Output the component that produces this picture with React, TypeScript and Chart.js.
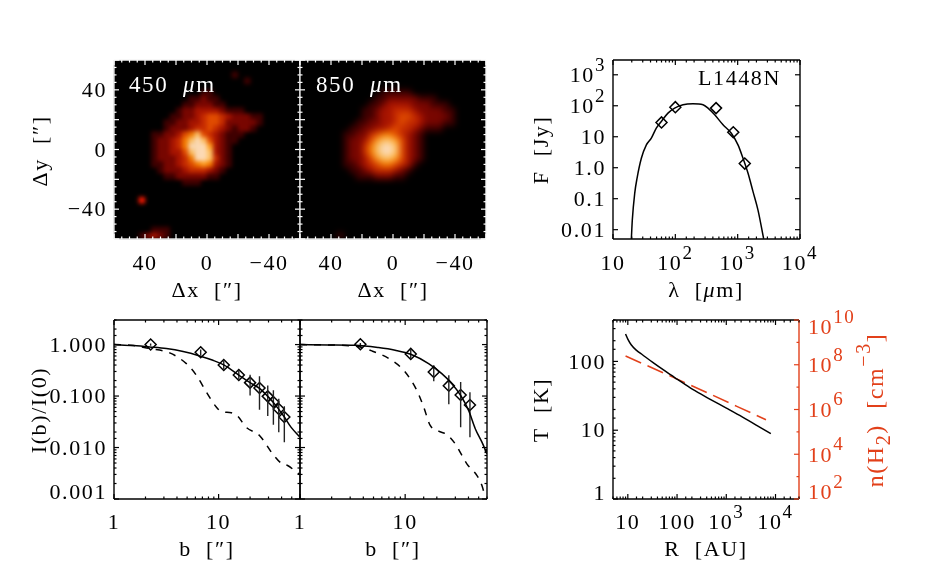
import React, { useEffect, useRef } from "react";
import { Chart, registerables } from "chart.js";

Chart.register(...registerables);

const FONT = '"Liberation Serif"';
const RED = "#e2401a";

// ---------- images: colour level per 4" cell, rows from top (+60) to bottom (-60), columns from +60 to -60
const heat450Rows = [
  "000000000000000000000000000000",
  "000000000000000000000000000000",
  "000000000000000000010000000000",
  "000000000000000000000100000000",
  "000000000000000000000000000000",
  "000000000000001100000000000000",
  "000000000000112110000000000000",
  "000000000001122211000000000000",
  "000000000012233332111000000000",
  "000000000112234554322211000000",
  "000000001122334554222221000000",
  "000000001222344543212210000000",
  "000000112235685432111000000000",
  "000000122346898532110000000000",
  "000000122346999732100000000000",
  "000000122335899832100000000000",
  "000000122234699842100000000000",
  "000000112234567632100000000000",
  "000000012223444321000000000000",
  "000000001122222110000000000000",
  "000000000001110000000000000000",
  "000000000000000000000000000000",
  "000000000000000000000000000000",
  "0000a0000000000000000000000000",
  "000000000000000000000000000000",
  "000000000000000000000000000000",
  "000000000000000000000000000000",
  "000000000000000000000000000000",
  "000000111000000000000000000000",
  "000012321000000000000000000000",
];
const heat850Rows = [
  "000000000000000000000000000000",
  "000000000000000000000000000000",
  "000000000000000000000000000000",
  "000000000000000000000000000000",
  "000000000000000000000000000000",
  "000000000000011111000000000000",
  "000000000000112222211100000000",
  "000000000001123333222111000000",
  "000000000011233444322221100000",
  "000000000011233455432222100000",
  "000000000112233454432221100000",
  "000000001122334544321110000000",
  "000000011224566543210000000000",
  "000000012235788753210000000000",
  "000000012246899853210000000000",
  "000000012246899853210000000000",
  "000000012235788753210000000000",
  "000000011234566543100000000000",
  "000000001123444321000000000000",
  "000000000111222110000000000000",
  "000000000000000000000000000000",
  "000000000000000000000000000000",
  "000000000000000000000000000000",
  "000000000000000000000000000000",
  "000000000000000000000000000000",
  "000000000000000000000000000000",
  "000000000000000000000000000000",
  "000000000000000000000000000000",
  "000000000000000000000000000000",
  "000000100000000000000000000000",
];
const heatColours = ["#000000", "#400000", "#7a0600", "#a81400", "#c82c00", "#e24c00", "#f67c00", "#ff9f20", "#ffc264", "#ffdcb6", "#ff1800"];
const imageTickValues = [40, 0, -40];
const imageTickLabels = ["40", "0", "\u221240"];

// ---------- SED
const sedLambda = [19.7, 20.4, 22.3, 24.3, 28.5, 34.3, 41.2, 49.5, 59.6, 76.2, 97.5, 133, 192, 278, 334, 428, 582, 791, 1012, 1218, 1467, 1763, 2119, 2612];
const sedFlux = [0.0051, 0.0204, 0.149, 0.456, 2.02, 5.47, 9.0, 18.9, 31.1, 57.9, 84, 108, 116, 108, 84, 51.2, 24.3, 13.0, 5.47, 2.02, 0.66, 0.169, 0.043, 0.0051];
const sedObsLambda = [60, 100, 450, 850, 1300];
const sedObsFlux = [29, 90, 84, 14, 1.36];
const sedXTicks = [10, 100, 1000, 10000];
const sedXLabels = ["10", "10^{2}", "10^{3}", "10^{4}"];
const sedYTicks = [1000, 100, 10, 1, 0.1, 0.01];
const sedYLabels = ["10^{3}", "10^{2}", "10", "1.0", "0.1", "0.01"];

// ---------- intensity profiles
const prof450B = [1, 1.53, 2.2, 3.17, 4.58, 6.59, 8.83, 11.2, 15.6, 20.0, 24.6, 29.5, 32.9, 37.0, 42.5, 49.2, 59.1];
const prof450I = [1, 0.956, 0.9, 0.836, 0.731, 0.601, 0.495, 0.402, 0.256, 0.182, 0.141, 0.0986, 0.0776, 0.0577, 0.0391, 0.0249, 0.0164];
const beam450B = [1, 1.53, 2.2, 3.41, 4.92, 6.13, 7.63, 9.5, 10.6, 13.2, 15.3, 18.3, 24.6, 32.9, 40.4, 45.7, 54.9, 59.1];
const beam450I = [1, 0.956, 0.836, 0.688, 0.426, 0.253, 0.12, 0.0612, 0.0501, 0.0474, 0.0401, 0.0249, 0.0171, 0.0075, 0.00482, 0.00447, 0.0034, 0.00305];
const obs450B = [2.24, 6.74, 11.2, 15.6, 20, 24.6, 29.5, 33.4, 37.6, 42.5];
const obs450I = [1.0, 0.709, 0.402, 0.256, 0.182, 0.143, 0.0986, 0.0764, 0.0559, 0.0391];
const obs450Hi = [1.05, 0.8, 0.495, 0.316, 0.26, 0.242, 0.161, 0.129, 0.0888, 0.0632];
const obs450Lo = [0.95, 0.61, 0.326, 0.211, 0.103, 0.054, 0.0408, 0.0277, 0.0199, 0.0127];

const prof850B = [1, 1.86, 3.34, 5.57, 8.03, 11.3, 16.7, 22.3, 27.8, 33.4, 40.1, 46.4, 53.7, 60];
const prof850I = [1, 0.985, 0.97, 0.874, 0.776, 0.648, 0.426, 0.272, 0.174, 0.106, 0.0527, 0.0232, 0.0127, 0.00757];
const beam850B = [1, 3.34, 4.82, 7.46, 10, 12.9, 15, 17.3, 20.8, 24.9, 29.9, 38.6, 48.2, 53.7, 57];
const beam850I = [1, 0.928, 0.753, 0.495, 0.293, 0.129, 0.0612, 0.0268, 0.0208, 0.0179, 0.0118, 0.00482, 0.00285, 0.00182, 0.0012];
const obs850B = [3.75, 11.3, 18.7, 26, 33.7, 41.3, 65.5];
const obs850I = [1.015, 0.658, 0.293, 0.159, 0.105, 0.0668, 0.0085];
const obs850Hi = [1.07, 0.8, 0.396, 0.253, 0.187, 0.119, 0.0085];
const obs850Lo = [0.9, 0.526, 0.193, 0.069, 0.0248, 0.0159, 0.0085];

const profXTicks = [1, 10];
const profXLabels = ["1", "10"];
const profYTicks = [1, 0.1, 0.01, 0.001];
const profYLabels = ["1.000", "0.100", "0.010", "0.001"];

// ---------- temperature & density
const radiusT = [9, 10, 11.7, 14.8, 20.1, 32.1, 59.8, 100, 208, 452, 984, 2143, 4670, 8035];
const temperature = [250, 211, 175, 146, 124, 96.7, 70.8, 55.3, 39.1, 28.6, 21.1, 15.5, 11.2, 8.9];
const radiusN = [9, 96, 6400];
const density = [2.45e8, 2.4e7, 3.5e5];
const radXTicks = [10, 100, 1000, 10000];
const radXLabels = ["10", "100", "10^{3}", "10^{4}"];
const tempTicks = [100, 10, 1];
const tempLabels = ["100", "10", "1"];
const densTicks = [1e10, 1e8, 1e6, 1e4, 1e2];
const densLabels = ["10^{10}", "10^{8}", "10^{6}", "10^{4}", "10^{2}"];

// ---------- helpers
const pts = (xs: number[], ys: number[]) => xs.map((x, i) => ({ x, y: ys[i] }));
const near = (a: number, b: number) => Math.abs(a - b) <= 1e-6 * Math.max(Math.abs(a), Math.abs(b), 1e-12);
const lookup = (vals: number[], labs: string[]) => (v: number) => {
  const i = vals.findIndex((k) => near(k, v));
  return i >= 0 ? labs[i] : "";
};
const isDecade = (v: number) => Math.abs(Math.log10(v) - Math.round(Math.log10(v))) < 1e-6;
const isEvenDecade = (v: number) => isDecade(v) && Math.round(Math.log10(v)) % 2 === 0;
const cells = (rows: string[]) => {
  const out: { x: number; y: number; v: number }[] = [];
  rows.forEach((row, r) =>
    row.split("").forEach((ch, c) => {
      const v = parseInt(ch, 16);
      if (v > 0) out.push({ x: 60 - 4 * (c + 0.5), y: 60 - 4 * (r + 0.5), v });
    })
  );
  return out;
};
const errorSegments = (xs: number[], lo: number[], hi: number[]) =>
  xs.flatMap((x, i) => [{ x, y: lo[i] }, { x, y: hi[i] }, { x, y: NaN }]);

function parseRich(s: string) {
  const re = /\^\{([^}]*)\}|_\{([^}]*)\}|\*([^*]*)\*|([^^_*]+)/g;
  const out: { t: string; kind: string }[] = [];
  let m: RegExpExecArray | null;
  while ((m = re.exec(s))) {
    if (m[1] !== undefined) out.push({ t: m[1], kind: "sup" });
    else if (m[2] !== undefined) out.push({ t: m[2], kind: "sub" });
    else if (m[3] !== undefined) out.push({ t: m[3], kind: "ital" });
    else out.push({ t: m[4], kind: "n" });
  }
  return out;
}

type RichOpts = { size?: number; color?: string; rotate?: boolean; align?: string; spacing?: number };
function drawRich(ctx: any, text: string, x: number, y: number, o: RichOpts = {}) {
  const size = o.size ?? 22;
  const spacing = o.spacing ?? 1.6;
  const segs = parseRich(text);
  ctx.save();
  ctx.translate(x, y);
  if (o.rotate) ctx.rotate(-Math.PI / 2);
  ctx.fillStyle = o.color ?? "#000";
  ctx.textBaseline = "alphabetic";
  ctx.textAlign = "left";
  ctx.letterSpacing = spacing + "px";
  const fontFor = (k: string) =>
    k === "sup" || k === "sub"
      ? `${Math.round(size * 0.85)}px ${FONT}`
      : k === "ital"
      ? `italic ${size}px ${FONT}`
      : `${size}px ${FONT}`;
  let total = 0;
  segs.forEach((s) => {
    ctx.font = fontFor(s.kind);
    total += ctx.measureText(s.t).width;
  });
  let cx = o.align === "right" ? -total : o.align === "left" ? 0 : -total / 2;
  const base = size * 0.33;
  segs.forEach((s) => {
    ctx.font = fontFor(s.kind);
    const dy = s.kind === "sup" ? -size * 0.52 : s.kind === "sub" ? size * 0.28 : 0;
    ctx.fillText(s.t, cx, base + dy);
    cx += ctx.measureText(s.t).width;
  });
  ctx.restore();
}

type AxisDraw = {
  id: string;
  sides: string[];
  major: (v: number) => boolean;
  color?: string;
  labelSide?: string;
  labelAt?: number;
  shift?: (v: number) => number;
  clipRight?: number;
};
type PanelSpec = {
  axes: AxisDraw[];
  frame?: { left?: string; right?: string; top?: string; bottom?: string };
  tickLen: [number, number];
  blur?: number;
  titles?: { text: string; x: number; y: number; rotate?: boolean; color?: string; size?: number }[];
  notes?: { text: string; x: number; y: number; color: string; size?: number }[];
};

const panelPlugin = (p: PanelSpec) => ({
  id: "panel",
  beforeDatasetsDraw(chart: any) {
    if (p.blur === undefined) return;
    const a = chart.chartArea;
    chart.ctx.save();
    chart.ctx.fillStyle = "#000";
    chart.ctx.fillRect(a.left, a.top, a.right - a.left, a.bottom - a.top);
    chart.ctx.restore();
  },
  afterDatasetsDraw(chart: any) {
    const ctx = chart.ctx;
    const a = chart.chartArea;
    if (p.blur !== undefined) {
      const w = Math.round(a.right - a.left);
      const h = Math.round(a.bottom - a.top);
      const tmp = document.createElement("canvas");
      tmp.width = w;
      tmp.height = h;
      tmp.getContext("2d")!.drawImage(ctx.canvas, a.left, a.top, w, h, 0, 0, w, h);
      ctx.save();
      ctx.fillStyle = "#000";
      ctx.fillRect(a.left, a.top, w, h);
      ctx.beginPath();
      ctx.rect(a.left, a.top, w, h);
      ctx.clip();
      ctx.filter = `blur(${p.blur}px)`;
      ctx.drawImage(tmp, a.left, a.top);
      ctx.restore();
    }
    ctx.save();
    ctx.lineWidth = 1.4;
    ctx.lineCap = "butt";
    const line = (x1: number, y1: number, x2: number, y2: number, c: string) => {
      ctx.strokeStyle = c;
      ctx.beginPath();
      ctx.moveTo(x1, y1);
      ctx.lineTo(x2, y2);
      ctx.stroke();
    };
    const f = p.frame ?? {};
    if (f.top) line(a.left, a.top, a.right, a.top, f.top);
    if (f.bottom) line(a.left, a.bottom, a.right, a.bottom, f.bottom);
    if (f.left) line(a.left, a.top, a.left, a.bottom, f.left);
    if (f.right) line(a.right, a.top, a.right, a.bottom, f.right);
    ctx.lineWidth = 1.2;
    p.axes.forEach((ax) => {
      const s = chart.scales[ax.id];
      const col = ax.color ?? "#000";
      s.ticks.forEach((t: any) => {
        const pos = s.getPixelForValue(t.value);
        const maj = ax.major(t.value);
        const len = maj ? p.tickLen[0] : p.tickLen[1];
        ax.sides.forEach((side) => {
          if (side === "left") line(a.left, pos, a.left + len, pos, col);
          if (side === "right") line(a.right, pos, a.right - len, pos, col);
          if (side === "top") line(pos, a.top, pos, a.top + len, col);
          if (side === "bottom") line(pos, a.bottom, pos, a.bottom - len, col);
        });
        if (t.label && ax.labelSide) {
          const sh = ax.shift ? ax.shift(t.value) : 0;
          ctx.save();
          if (ax.clipRight) {
            ctx.beginPath();
            ctx.rect(0, 0, ax.clipRight, 579);
            ctx.clip();
          }
          if (ax.labelSide === "left")
            drawRich(ctx, t.label, a.left - 7, pos + sh, { align: "right" });
          else if (ax.labelSide === "right")
            drawRich(ctx, t.label, a.right + 9, pos + sh, { align: "left", color: RED });
          else drawRich(ctx, t.label, pos, ax.labelAt ?? a.bottom + 24);
          ctx.restore();
        }
      });
    });
    (p.titles ?? []).forEach((t) =>
      drawRich(ctx, t.text, t.x, t.y, { rotate: t.rotate, color: t.color, size: t.size })
    );
    (p.notes ?? []).forEach((t) =>
      drawRich(ctx, t.text, t.x, t.y, { color: t.color, align: "left", size: t.size })
    );
    ctx.restore();
  },
});

const hiddenTicks = (labelFn: (v: number) => string, extra: any = {}) => ({
  display: false,
  autoSkip: false,
  maxRotation: 0,
  callback: (v: number) => labelFn(Number(v)),
  ...extra,
});

const axisBase = (o: any) => ({
  grid: { display: false },
  border: { display: false },
  ...o,
});

type Area = { l: number; r: number; t: number; b: number };
function config(area: Area, scales: any, datasets: any[], spec: PanelSpec, rightAxis = false) {
  const sc: any = {};
  Object.keys(scales).forEach((k) => {
    const isX = k === "x";
    const right = k === "y2";
    sc[k] = {
      ...axisBase(scales[k]),
      position: isX ? "bottom" : right ? "right" : "left",
      afterFit: (s: any) => {
        if (isX) s.height = 579 - area.b;
        else if (right) s.width = 926 - area.r;
        else s.width = area.l;
      },
    };
  });
  return {
    type: "scatter" as const,
    data: { datasets },
    options: {
      animation: false,
      responsive: false,
      devicePixelRatio: 1,
      events: [],
      layout: {
        autoPadding: false,
        padding: { top: area.t, left: 0, bottom: 0, right: rightAxis ? 0 : 926 - area.r },
      },
      plugins: { legend: { display: false }, tooltip: { enabled: false } },
      scales: sc,
    },
    plugins: [panelPlugin(spec)],
  };
}

const heatDataset = (rows: string[]) => {
  const c = cells(rows);
  return {
    data: c,
    pointStyle: "rect",
    pointRadius: 4.6,
    pointBorderWidth: 0,
    pointBackgroundColor: c.map((k) => heatColours[k.v]),
    showLine: false,
  };
};
const solid = (xs: number[], ys: number[], color = "#000") => ({
  data: pts(xs, ys),
  showLine: true,
  borderColor: color,
  borderWidth: 1.5,
  pointRadius: 0,
  cubicInterpolationMode: "monotone",
});
const dashed = (xs: number[], ys: number[], dash: number[], color = "#000", axis?: string) => ({
  ...solid(xs, ys, color),
  borderDash: dash,
  ...(axis ? { yAxisID: axis } : {}),
});
const diamonds = (xs: number[], ys: number[], r = 5.5) => ({
  data: pts(xs, ys),
  showLine: false,
  pointStyle: "rectRot",
  pointRadius: r,
  pointBorderWidth: 1.5,
  pointBorderColor: "#000",
  pointBackgroundColor: "rgba(0,0,0,0)",
});
const errors = (xs: number[], lo: number[], hi: number[]) => ({
  data: errorSegments(xs, lo, hi),
  showLine: true,
  spanGaps: false,
  borderColor: "#222",
  borderWidth: 1.4,
  pointRadius: 0,
});

const major20 = (v: number) => v % 20 === 0;
const imageLabel = lookup(imageTickValues, imageTickLabels);
const imageScale = (axis: string) => ({
  type: "linear",
  min: -60,
  max: 60,
  reverse: axis === "x",
  ticks: hiddenTicks(imageLabel, { stepSize: 5 }),
});
const keepDecades = (s: any) => {
  s.ticks = s.ticks.filter((t: any) => isDecade(t.value));
};
const keepEvenOdd = keepDecades;
const logScale = (min: number, max: number, fn: (v: number) => string, extra: any = {}) => ({
  type: "logarithmic",
  min,
  max,
  ticks: hiddenTicks(fn),
  ...extra,
});

const imgFrame = { left: "#dcdcdc", right: "#f4f4f4", top: "#f4f4f4", bottom: "#dcdcdc" };
const blackFrame = { left: "#000", right: "#000", top: "#000", bottom: "#000" };

export default function App() {
  const refs = [useRef<HTMLCanvasElement>(null), useRef<HTMLCanvasElement>(null), useRef<HTMLCanvasElement>(null), useRef<HTMLCanvasElement>(null), useRef<HTMLCanvasElement>(null), useRef<HTMLCanvasElement>(null)];
  useEffect(() => {
    const profY = lookup(profYTicks, profYLabels);
    const profX = lookup(profXTicks, profXLabels);
    const cfgs: any[] = [
      config(
        { l: 114, r: 300, t: 60, b: 239 },
        { x: imageScale("x"), y: imageScale("y") },
        [heatDataset(heat450Rows)],
        {
          axes: [
            { id: "x", sides: ["top", "bottom"], major: major20, color: "#fff", labelSide: "bottom", labelAt: 263, clipRight: 288 },
            { id: "y", sides: ["left", "right"], major: major20, color: "#fff", labelSide: "left" },
          ],
          frame: imgFrame,
          tickLen: [5, 2.5],
          blur: 2.2,
          titles: [
            { text: "\u0394y  [\u2033]", x: 40, y: 151, rotate: true },
            { text: "\u0394x  [\u2033]", x: 207, y: 290 },
          ],
          notes: [{ text: "450  *\u03bc*m", x: 129, y: 84, color: "#fff", size: 23 }],
        }
      ),
      config(
        { l: 300, r: 486, t: 60, b: 239 },
        { x: imageScale("x"), y: imageScale("y") },
        [heatDataset(heat850Rows)],
        {
          axes: [
            { id: "x", sides: ["top", "bottom"], major: major20, color: "#fff", labelSide: "bottom", labelAt: 263 },
            { id: "y", sides: ["left", "right"], major: major20, color: "#fff" },
          ],
          frame: imgFrame,
          tickLen: [5, 2.5],
          blur: 3.4,
          titles: [{ text: "\u0394x  [\u2033]", x: 393, y: 290 }],
          notes: [{ text: "850  *\u03bc*m", x: 316, y: 84, color: "#fff", size: 23 }],
        }
      ),
      config(
        { l: 613, r: 800, t: 60, b: 239 },
        {
          x: logScale(10, 10000, lookup(sedXTicks, sedXLabels)),
          y: logScale(0.005, 3000, lookup(sedYTicks, sedYLabels), { afterBuildTicks: keepDecades }),
        },
        [solid(sedLambda, sedFlux), diamonds(sedObsLambda, sedObsFlux)],
        {
          axes: [
            { id: "x", sides: ["top", "bottom"], major: isDecade, labelSide: "bottom", labelAt: 263 },
            { id: "y", sides: ["left", "right"], major: isDecade, labelSide: "left" },
          ],
          frame: blackFrame,
          tickLen: [5, 2.5],
          titles: [
            { text: "F  [Jy]", x: 541, y: 150, rotate: true },
            { text: "\u03bb  [*\u03bc*m]", x: 706, y: 290 },
          ],
          notes: [{ text: "L1448N", x: 698, y: 78, color: "#000" }],
        }
      ),
      config(
        { l: 114, r: 300, t: 320, b: 499 },
        { x: logScale(1, 60, profX), y: logScale(0.001, 3, profY) },
        [
          solid(prof450B, prof450I),
          dashed(beam450B, beam450I, [7, 7]),
          errors(obs450B, obs450Lo, obs450Hi),
          diamonds(obs450B, obs450I),
        ],
        {
          axes: [
            { id: "x", sides: ["top", "bottom"], major: isDecade, labelSide: "bottom", labelAt: 522 },
            {
              id: "y",
              sides: ["left", "right"],
              major: isDecade,
              labelSide: "left",
              shift: (v) => (near(v, 0.001) ? -7 : 0),
            },
          ],
          frame: blackFrame,
          tickLen: [5, 2.5],
          titles: [
            { text: "I(b)/I(0)", x: 39, y: 410, rotate: true },
            { text: "b  [\u2033]", x: 207, y: 549 },
          ],
        }
      ),
      config(
        { l: 300, r: 487, t: 320, b: 499 },
        { x: logScale(1, 60, profX), y: logScale(0.001, 3, profY) },
        [
          solid(prof850B, prof850I),
          dashed(beam850B, beam850I, [7, 7]),
          errors(obs850B, obs850Lo, obs850Hi),
          diamonds(obs850B, obs850I),
        ],
        {
          axes: [
            { id: "x", sides: ["top", "bottom"], major: isDecade, labelSide: "bottom", labelAt: 522 },
            { id: "y", sides: ["left", "right"], major: isDecade },
          ],
          frame: blackFrame,
          tickLen: [5, 2.5],
          titles: [{ text: "b  [\u2033]", x: 393, y: 549 }],
        }
      ),
      config(
        { l: 613, r: 799, t: 320, b: 499 },
        {
          x: logScale(5, 30000, lookup(radXTicks, radXLabels)),
          y: logScale(1, 400, lookup(tempTicks, tempLabels)),
          y2: logScale(100, 1e10, lookup(densTicks, densLabels), { afterBuildTicks: keepEvenOdd }),
        },
        [solid(radiusT, temperature), dashed(radiusN, density, [17, 7], RED, "y2")],
        {
          axes: [
            { id: "x", sides: ["top", "bottom"], major: isDecade, labelSide: "bottom", labelAt: 522 },
            {
              id: "y",
              sides: ["left"],
              major: isDecade,
              labelSide: "left",
              shift: (v) => (near(v, 1) ? -6 : 0),
            },
            {
              id: "y2",
              sides: ["right"],
              major: isEvenDecade,
              color: RED,
              labelSide: "right",
              shift: (v) => (near(v, 1e10) ? 7 : near(v, 100) ? -7 : 0),
            },
          ],
          frame: { left: "#000", top: "#000", bottom: "#000", right: RED },
          tickLen: [5, 2.5],
          titles: [
            { text: "T  [K]", x: 541, y: 410, rotate: true },
            { text: "R  [AU]", x: 706, y: 549 },
            { text: "n(H_{2})  [cm^{\u22123}]", x: 875, y: 410, rotate: true, color: RED, size: 24 },
          ],
        },
        true
      ),
    ];
    const charts = cfgs.map((cfg, i) => new Chart(refs[i].current as HTMLCanvasElement, cfg));
    return () => charts.forEach((c) => c.destroy());
  }, []);
  return (
    <div style={{ position: "absolute", left: 0, top: 0, width: 926, height: 579, overflow: "hidden", background: "#fff" }}>
      {refs.map((r, i) => (
        <canvas key={i} ref={r} width={926} height={579} style={{ position: "absolute", left: 0, top: 0, width: 926, height: 579 }} />
      ))}
    </div>
  );
}
